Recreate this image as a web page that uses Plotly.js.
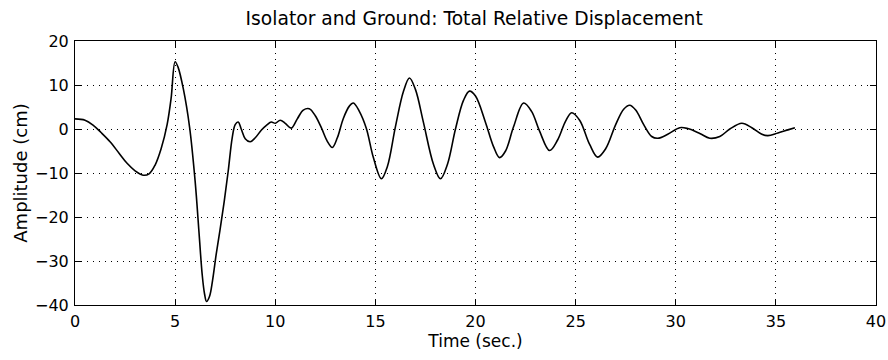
<!DOCTYPE html>
<html>
<head>
<meta charset="utf-8">
<script src="https://cdn.plot.ly/plotly-3.0.1.min.js"></script>
<style>html,body{margin:0;padding:0;background:#fff;}#chart{width:888px;height:360px;}</style>
</head>
<body>
<div id="chart"></div>
<script>
const timeSec = [0,0.5,0.9,1.3,1.75,2.2,2.6,3.0,3.4,3.7,4.0,4.3,4.6,4.8,5.0,5.15,5.41,5.72,6.0,6.2,6.35,6.47,6.57,6.72,6.87,7.05,7.24,7.45,7.65,7.85,8.0,8.15,8.3,8.5,8.75,9.0,9.3,9.6,9.8,10.0,10.25,10.5,10.8,11.1,11.4,11.7,12.0,12.3,12.6,12.85,13.1,13.4,13.7,13.9,14.2,14.55,14.9,15.3,15.6,16.0,16.4,16.7,17.0,17.4,17.9,18.25,18.6,19.0,19.4,19.7,20.0,20.5,20.9,21.2,21.5,21.9,22.4,22.8,23.2,23.7,24.1,24.5,24.8,25.2,25.7,26.1,26.5,27.0,27.4,27.7,28.0,28.4,28.8,29.1,29.6,30.2,30.6,31.2,31.7,32.2,32.7,33.3,33.8,34.3,34.6,35.1,35.6,35.95];
const amplitudeCm = [2.3,2.0,0.9,-0.8,-2.9,-5.5,-7.8,-9.5,-10.5,-10.2,-8.2,-4.5,1.0,7,15.3,14.0,9.1,0.5,-11.9,-24,-33,-37.5,-39.2,-38,-34.4,-28.5,-23,-16.5,-9.6,-2,1.0,1.6,0.0,-2.2,-2.9,-2.0,-0.3,1.0,1.6,1.3,2.0,1.3,0.2,2.3,4.3,4.6,3.0,0.3,-2.8,-4.2,-2.0,2.4,5.2,5.9,4.0,0.1,-6.5,-11.3,-8.5,0.5,8.5,11.6,9.0,1.5,-8.0,-11.3,-8.0,0,6.5,8.6,7.5,1.5,-4.0,-6.5,-5.0,0.5,5.9,4.0,-0.5,-4.9,-2.5,1.8,3.7,2.0,-3.5,-6.4,-4.5,1,4.5,5.4,4.3,1,-1.7,-2.1,-1.2,0.3,0.1,-1,-2.1,-1.7,0,1.3,0.3,-1.2,-1.5,-0.9,-0.2,0.3];
const xTickVals = [0,5,10,15,20,25,30,35,40];
const xTickText = ["0","5","10","15","20","25","30","35","40"];
const yTickVals = [-40,-30,-20,-10,0,10,20];
const yTickText = ["\u221240","\u221230","\u221220","\u221210","0","10","20"];

const fontFam = '"DejaVu Sans", "Liberation Sans", Arial, sans-serif';
const axisCommon = {
  showline: true, linecolor: '#000', linewidth: 1, mirror: 'ticks',
  ticks: 'inside', ticklen: 6, tickcolor: '#000', tickwidth: 1,
  showgrid: true, gridcolor: '#000', gridwidth: 1, griddash: '1px,5px',
  zeroline: false, tickfont: {family: fontFam, size: 16, color: '#000'},
  tickmode: 'array', fixedrange: true
};

const data = [{
  x: timeSec, y: amplitudeCm, type: 'scatter', mode: 'lines',
  line: {color: '#000', width: 1.6, shape: 'spline', smoothing: 1},
  hoverinfo: 'skip'
}];
const layout = {
  width: 888, height: 360,
  margin: {l: 75, r: 12, t: 41, b: 55},
  paper_bgcolor: '#fff', plot_bgcolor: '#fff',
  showlegend: false,
  title: {text: 'Isolator and Ground: Total Relative Displacement', font: {family: fontFam, size: 18.7, color: '#000'}, x: 0.534, xanchor: 'center', y: 0.95, yanchor: 'middle'},
  xaxis: Object.assign({}, axisCommon, {range: [0, 40], tickvals: xTickVals, ticktext: xTickText, ticklabelstandoff: 2,
    title: {text: 'Time (sec.)', font: {family: fontFam, size: 17, color: '#000'}, standoff: 4}}),
  yaxis: Object.assign({}, axisCommon, {range: [-40, 20], tickvals: yTickVals, ticktext: yTickText, ticklabelstandoff: 2,
    title: {text: 'Amplitude (cm)', font: {family: fontFam, size: 18, color: '#000'}, standoff: 2}})
};
Plotly.newPlot('chart', data, layout, {displayModeBar: false, staticPlot: true});
</script>
</body>
</html>
